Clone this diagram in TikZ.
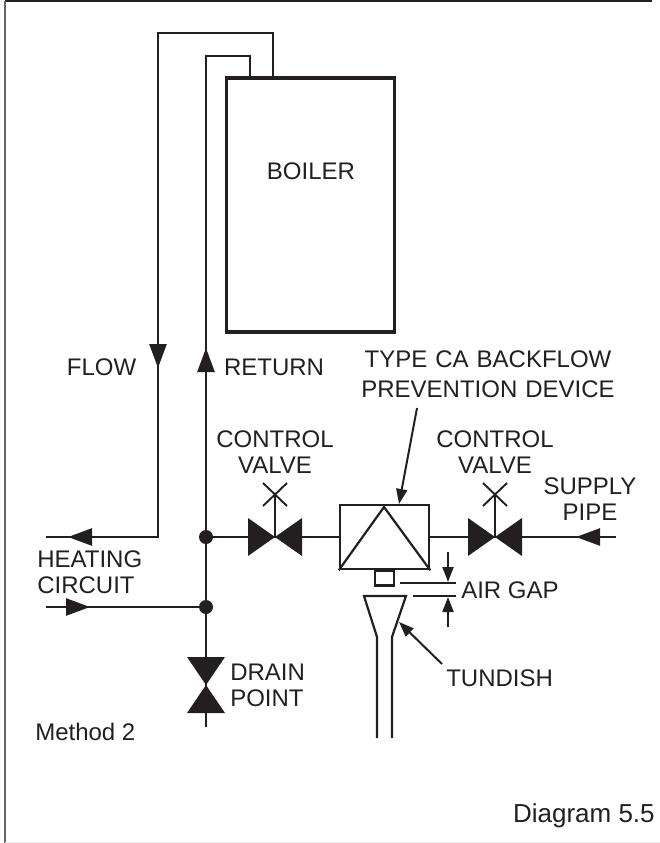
\documentclass[tikz,border=0pt]{standalone}
\usepackage{fontspec}
\setmainfont{Liberation Sans}
\usepackage{xcolor}
\usetikzlibrary{arrows.meta}
\definecolor{ink}{HTML}{231F20}

\begin{document}
\begin{tikzpicture}[
            x = 1pt,
            y = -1pt,
            semithick,
            ink,
            pipe/.style = {draw, line width = 2.5pt},
            thin pipe/.style = {draw, line width = 2pt},
            head/.style = {-{Triangle[length=24pt, width=17pt]}, line width = 2.5pt},
            small head/.style = {-{Triangle[length=15pt, width=11pt]}, line width = 2pt},
            junction/.style = {circle, fill, inner sep = 0pt, minimum size = 14pt},
            label/.style = {font = \fontsize{24}{26}\selectfont, inner sep = 0pt, align = center}
        ]
        \useasboundingbox (0, 0) rectangle (660, 843);

        % page frame
        \coordinate (frame nw) at (5, 1);
        \coordinate (frame ne) at (652, 1);
        \coordinate (frame sw) at (5, 843);
        \draw[line width = 2pt] (frame ne) -- (frame nw);
        \draw[line width = 2pt, black!60] (frame nw) -- (frame sw);
        \draw[black!8] (5, 842) -- (660, 842);

        % boiler
        \node[draw, line width = 3.8pt, minimum width = 168pt, minimum height = 254pt, inner sep = 0pt] (boiler) at (310.5, 205) {};
        \node[label] (boiler text) at (311, 171) {BOILER};

        % junctions and valves
        \node[junction] (tee top) at (206, 537) {};
        \node[junction] (tee low) at (206, 607) {};
        \coordinate (valve a) at (275, 537);
        \coordinate (valve b) at (495, 537);
        \coordinate (valve d) at (206, 685);
        \coordinate (spindle a) at (275, 494);
        \coordinate (spindle b) at (495, 494);

        % device
        \node[draw, line width = 2.5pt, minimum width = 89pt, minimum height = 64pt, inner sep = 0pt] (device) at (384.5, 537) {};
        \node[draw, line width = 2.5pt, minimum width = 19pt, minimum height = 15pt, inner sep = 0pt, anchor = north] (stub) at (384.5, 569) {};
        \draw[line width = 2.2pt] (device.south west) -- (384, 507) -- (device.south east);

        % pipe ends
        \coordinate (flow out) at (46, 537);
        \coordinate (heat in) at (46, 607);
        \coordinate (supply) at (616, 537);
        \coordinate (drain end) at (206, 727);

        % flow and return
        \draw[pipe] (273, 78) |- (158, 33) |- (flow out);
        \draw[pipe] (250, 78) |- (206, 56) -- (tee top);
        \draw[pipe] (tee top) -- (tee low);
        \draw[pipe] (tee low) -- (drain end);
        \draw[pipe] (heat in) -- (tee low);
        \draw[pipe] (tee top) -- (valve a);
        \draw[pipe] (valve a) -- (device);
        \draw[pipe] (device) -- (valve b);
        \draw[pipe] (valve b) -- (supply);

        % valve bodies
        \fill (valve a) -- ++(-27, -19) -- ++(0, 38) -- cycle;
        \fill (valve a) -- ++(27, -19) -- ++(0, 38) -- cycle;
        \fill (valve b) -- ++(-27, -19) -- ++(0, 38) -- cycle;
        \fill (valve b) -- ++(27, -19) -- ++(0, 38) -- cycle;
        \fill (valve d) -- ++(-19, -28) -- ++(38, 0) -- cycle;
        \fill (valve d) -- ++(-19, 28) -- ++(38, 0) -- cycle;

        % spindles
        \draw[thin pipe] (valve a) -- (spindle a);
        \draw[thin pipe] (valve b) -- (spindle b);
        \draw[line width = 1.9pt] (spindle a) ++(-12, -11) -- ++(24, 23);
        \draw[line width = 1.9pt] (spindle a) ++(12, -11) -- ++(-24, 23);
        \draw[line width = 1.9pt] (spindle b) ++(-12, -11) -- ++(24, 23);
        \draw[line width = 1.9pt] (spindle b) ++(12, -11) -- ++(-24, 23);

        % flow arrows
        \draw[head] (158, 340) -- (158, 368);
        \draw[head] (206, 376) -- (206, 348);
        \draw[head] (96, 537) -- (68, 537);
        \draw[head] (62, 607) -- (90, 607);
        \draw[head] (605, 537) -- (576, 537);

        % air gap
        \coordinate (gap a) at (456, 583);
        \coordinate (gap b) at (456, 596);
        \draw[line width = 2.2pt] (400, 583) -- (gap a);
        \draw[line width = 2.2pt] (413, 596) -- (gap b);
        \draw[small head] (448, 552) -- (448, 582);
        \draw[small head] (448, 627) -- (448, 597);

        % tundish
        \draw[line width = 2.2pt] (377, 738) -- (377, 637) -- (364, 596) -- (406, 596) -- (392, 637) -- (392, 738);

        % pointers
        \coordinate (pointer a) at (417, 408);
        \coordinate (pointer b) at (442, 664);
        \draw[small head] (pointer a) -- (399, 504);
        \draw[small head] (pointer b) -- (399, 622);

        % text
        \node[label] (flow text) at (101.5, 367) {FLOW};
        \node[label] (return text) at (274, 367) {RETURN};
        \node[label, text width = 260pt, font = \fontsize{24}{30}\selectfont] (device text) at (488, 374) {TYPE CA BACKFLOW\\PREVENTION DEVICE};
        \node[label] (control a) at (275, 452) {CONTROL\\VALVE};
        \node[label] (control b) at (495, 452) {CONTROL\\VALVE};
        \node[label] (supply text) at (590, 499) {SUPPLY\\PIPE};
        \node[label, align = left, anchor = west] (heat text) at (37, 572) {HEATING\\CIRCUIT};
        \node[label, anchor = west] (gap text) at (461, 590) {AIR GAP};
        \node[label, anchor = west] (tundish text) at (446, 678) {TUNDISH};
        \node[label, align = left, anchor = west] (drain text) at (230, 685) {DRAIN\\POINT};
        \node[label, anchor = west] (method text) at (35, 732) {Method 2};
        \node[label, anchor = east, font = \fontsize{26}{26}\selectfont] (diagram text) at (655, 816) {Diagram 5.5};
    \end{tikzpicture}
\end{document}
